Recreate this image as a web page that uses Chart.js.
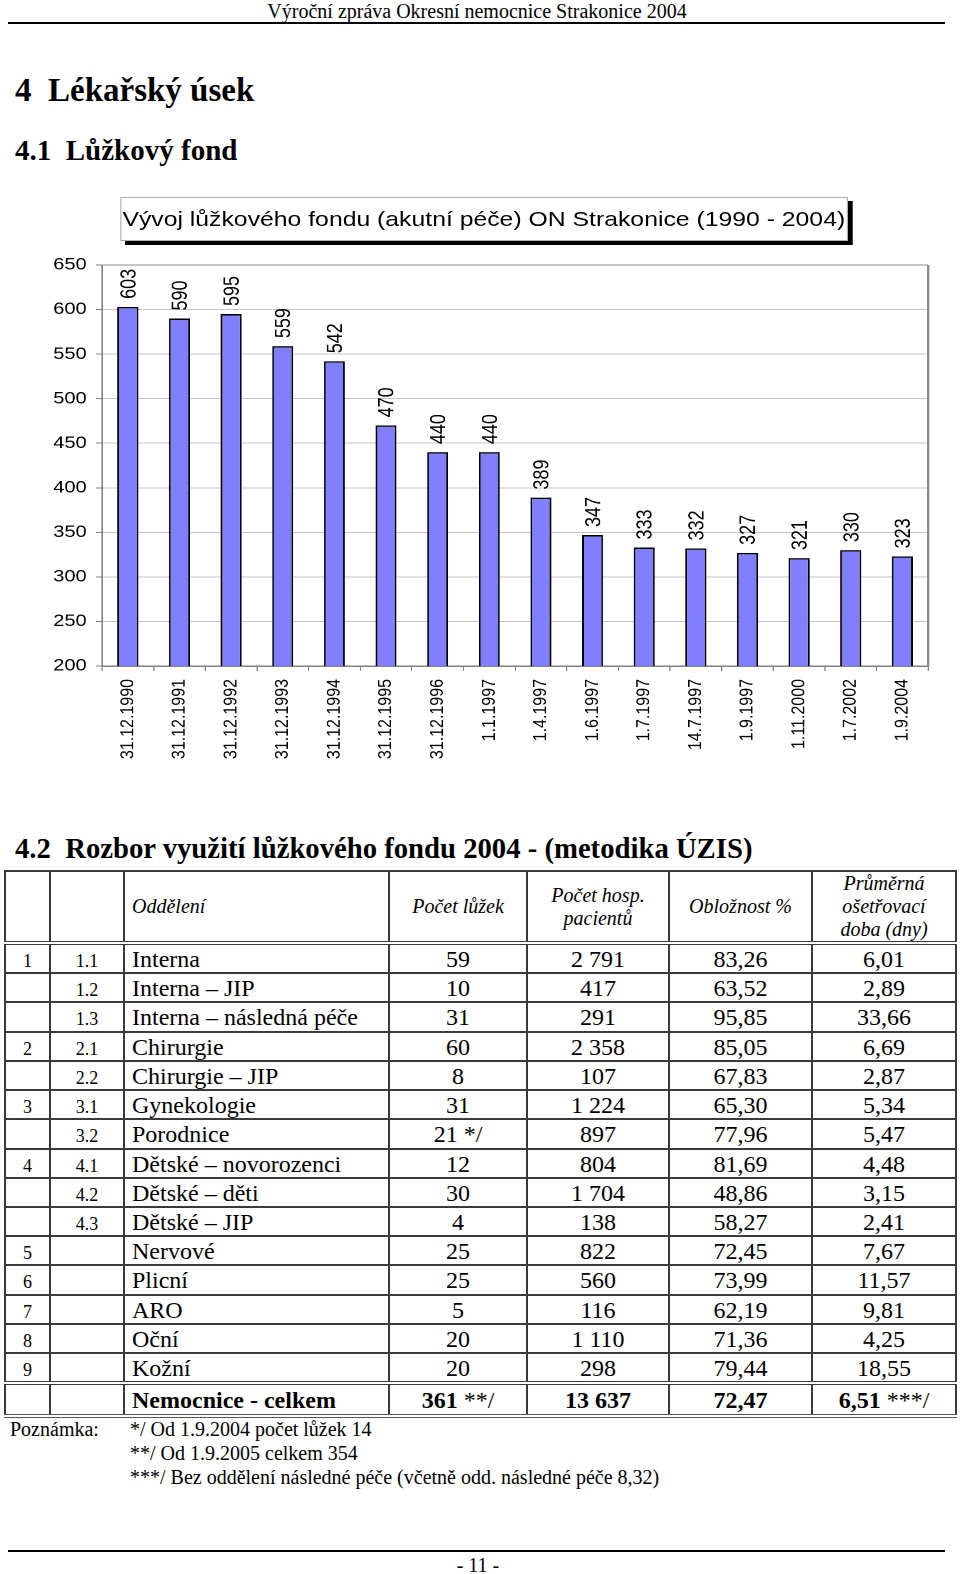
<!DOCTYPE html>
<html lang="cs">
<head>
<meta charset="utf-8">
<script src="https://cdn.jsdelivr.net/npm/chart.js@4.4.1/dist/chart.umd.min.js"></script>
<style>
  html, body { margin: 0; padding: 0; background: #fff; }
  body { position: relative; width: 960px; height: 1574px; overflow: hidden; font-family: "Liberation Serif", "Times New Roman", serif; color: #000; }
  .abs { position: absolute; }
  #hdr { left: 0; width: 954px; top: 0; text-align: center; font-size: 20px; line-height: 22px; }
  .rule { left: 8px; width: 937px; height: 2px; background: #000; }
  h1, h2, h3 { margin: 0; font-weight: bold; white-space: pre; position: absolute; left: 15px; }
  h1 { font-size: 33px; line-height: 34px; top: 73px; }
  h2 { font-size: 29px; line-height: 30px; top: 135px; }
  h3 { font-size: 28.7px; line-height: 30px; top: 833px; }
  #chartWrap { left: 0; top: 190px; width: 814px; height: 590px; transform: scaleX(1.1794); transform-origin: 0 0; }
  #chartTitle { position: absolute; left: 101.7px; top: 7px; width: 615px; height: 42px; border: 1px solid #b0b0b0; background: #fff;
    box-shadow: 4px 4px 0 #000; font-family: "Liberation Sans", Arial, sans-serif; font-size: 21px; line-height: 42px; text-align: center; z-index: 2; white-space: nowrap; }
  #tbl { left: 4px; top: 870px; border-collapse: collapse; table-layout: fixed; width: 951px; }
  #tbl td { border: 2px solid #3a3a3a; padding: 2px 0 0 0; font-size: 24px; line-height: 24px; vertical-align: baseline; text-align: center; overflow: hidden; white-space: nowrap; }
  #tbl td.sm { font-size: 18px; line-height: 20px; }
  #tbl td.name { text-align: left; padding-left: 7px; }
  #tbl tr.head td { font-style: italic; font-size: 20px; line-height: 23px; vertical-align: middle; height: 68px; padding-top: 0; }
  #tbl tr.head td { border-bottom: 4px double #3a3a3a; }
  #tbl tr.body td { height: 25.23px; }
  #tbl tr.last td { border-bottom: 4px double #3a3a3a; }
  #tbl tr.total td { font-weight: bold; height: 26px; padding-top: 3px; border-bottom: 4px double #555; }
  #tbl tr.total span.n { font-weight: normal; }
  #notes { left: 10px; top: 1418px; font-size: 20px; line-height: 23.8px; }
  #notes .lab { position: absolute; left: 0; top: 0; }
  #notes .txt { position: absolute; left: 120px; top: 0; white-space: nowrap; }
  #page { left: 0; width: 956px; top: 1554px; text-align: center; font-size: 20px; line-height: 22px; }
</style>
</head>
<body>
<div id="hdr" class="abs">Výroční zpráva Okresní nemocnice Strakonice 2004</div>
<div class="abs rule" style="top:22px"></div>
<h1>4  Lékařský úsek</h1>
<h2>4.1  Lůžkový fond</h2>

<div id="chartWrap" class="abs">
  <div id="chartTitle">Vývoj lůžkového fondu (akutní péče) ON Strakonice (1990 - 2004)</div>
  <canvas id="c" width="814" height="590" style="position:absolute;left:0;top:0"></canvas>
</div>

<h3>4.2  Rozbor využití lůžkového fondu 2004 - (metodika ÚZIS)</h3>
<table id="tbl" class="abs"><colgroup>
<col style="width:45px"><col style="width:74px"><col style="width:265px"><col style="width:138px"><col style="width:142px"><col style="width:143px"><col style="width:144px">
</colgroup><tbody id="tbody"></tbody></table>

<div id="notes" class="abs">
  <div class="lab">Poznámka:</div>
  <div class="txt">*/ Od 1.9.2004 počet lůžek 14<br>**/ Od 1.9.2005 celkem 354<br>***/ Bez oddělení následné péče (včetně odd. následné péče 8,32)</div>
</div>
<div class="abs rule" style="top:1550px"></div>
<div id="page" class="abs">- 11 -</div>

<script>
// ---------- chart data ----------
const categories = ['31.12.1990','31.12.1991','31.12.1992','31.12.1993','31.12.1994','31.12.1995','31.12.1996','1.1.1997','1.4.1997','1.6.1997','1.7.1997','14.7.1997','1.9.1997','1.11.2000','1.7.2002','1.9.2004'];
const bedCounts = [603, 590, 595, 559, 542, 470, 440, 440, 389, 347, 333, 332, 327, 321, 330, 323];
const yAxisMin = 200;
const yAxisMax = 650;
const yAxisStep = 50;

// ---------- table data ----------
const tblGroup   = ['1','','','2','','3','','4','','','5','6','7','8','9'];
const tblCode    = ['1.1','1.2','1.3','2.1','2.2','3.1','3.2','4.1','4.2','4.3','','','','',''];
const tblDept    = ['Interna','Interna – JIP','Interna – následná péče','Chirurgie','Chirurgie – JIP','Gynekologie','Porodnice','Dětské – novorozenci','Dětské – děti','Dětské – JIP','Nervové','Plicní','ARO','Oční','Kožní'];
const tblBeds    = ['59','10','31','60','8','31','21 */','12','30','4','25','25','5','20','20'];
const tblPatients= ['2 791','417','291','2 358','107','1 224','897','804','1 704','138','822','560','116','1 110','298'];
const tblOccup   = ['83,26','63,52','95,85','85,05','67,83','65,30','77,96','81,69','48,86','58,27','72,45','73,99','62,19','71,36','79,44'];
const tblStay    = ['6,01','2,89','33,66','6,69','2,87','5,34','5,47','4,48','3,15','2,41','7,67','11,57','9,81','4,25','18,55'];
const tblHeader  = ['', '', 'Oddělení', 'Počet lůžek', 'Počet hosp.<br>pacientů', 'Obložnost %', 'Průměrná<br>ošetřovací<br>doba (dny)'];
const totalRow   = ['', '', 'Nemocnice - celkem', '361 <span class="n">**/</span>', '13 637', '72,47', '6,51 <span class="n">***/</span>'];

// build table
(function () {
  const tb = document.getElementById('tbody');
  let h = '<tr class="head">';
  tblHeader.forEach((t, i) => { h += '<td' + (i === 2 ? ' class="name"' : '') + '>' + t + '</td>'; });
  h += '</tr>';
  for (let i = 0; i < tblDept.length; i++) {
    h += '<tr class="body' + (i === tblDept.length - 1 ? ' last' : '') + '">' +
      '<td class="sm">' + tblGroup[i] + '</td>' +
      '<td class="sm">' + tblCode[i] + '</td>' +
      '<td class="name">' + tblDept[i] + '</td>' +
      '<td>' + tblBeds[i] + '</td>' +
      '<td>' + tblPatients[i] + '</td>' +
      '<td>' + tblOccup[i] + '</td>' +
      '<td>' + tblStay[i] + '</td></tr>';
  }
  h += '<tr class="total">';
  totalRow.forEach((t, i) => { h += '<td' + (i === 2 ? ' class="name"' : '') + '>' + t + '</td>'; });
  h += '</tr>';
  tb.innerHTML = h;
})();

// ---------- chart ----------
const valueLabels = {
  id: 'valueLabels',
  afterDatasetsDraw(chart) {
    const ctx = chart.ctx;
    const meta = chart.getDatasetMeta(0);
    const size = 18;
    ctx.save();
    ctx.font = size + 'px "Liberation Sans", Arial, sans-serif';
    ctx.fillStyle = '#000';
    ctx.textAlign = 'left';
    ctx.textBaseline = 'alphabetic';
    meta.data.forEach((bar, i) => {
      ctx.save();
      ctx.translate(bar.x, bar.y - 8);
      ctx.rotate(-Math.PI / 2);
      ctx.fillText(String(chart.data.datasets[0].data[i]), 0, size * 0.716 / 2);
      ctx.restore();
    });
    ctx.restore();
  }
};

const plotFrame = {
  id: 'plotFrame',
  afterDraw(chart) {
    const a = chart.chartArea;
    const ctx = chart.ctx;
    ctx.save();
    ctx.strokeStyle = '#8a8a8a';
    ctx.lineWidth = 1;
    ctx.beginPath();
    ctx.moveTo(a.left, a.top);
    ctx.lineTo(a.right, a.top);
    ctx.stroke();
    ctx.lineWidth = 2;
    ctx.beginPath();
    ctx.moveTo(a.right, a.top);
    ctx.lineTo(a.right, a.bottom);
    ctx.stroke();
    ctx.restore();
  }
};

new Chart(document.getElementById('c'), {
  type: 'bar',
  data: {
    labels: categories,
    datasets: [{
      data: bedCounts,
      backgroundColor: '#8080ff',
      borderColor: '#000',
      borderWidth: 1.5,
      barPercentage: 0.407,
      categoryPercentage: 1
    }]
  },
  options: {
    responsive: false,
    animation: false,
    devicePixelRatio: 2,
    layout: { padding: { top: 75, right: 27, left: 0, bottom: 0 } },
    plugins: { legend: { display: false }, title: { display: false }, tooltip: { enabled: false } },
    scales: {
      x: {
        grid: { display: true, drawOnChartArea: false, drawTicks: true, tickLength: 5, color: '#808080', lineWidth: 1 },
        border: { display: true, color: '#808080', width: 1.5 },
        ticks: { autoSkip: false, minRotation: 90, maxRotation: 90, padding: 8, color: '#000',
          font: { family: '"Liberation Sans", Arial, sans-serif', size: 16 } },
        afterFit(s) { s.height = 114; }
      },
      y: {
        min: yAxisMin, max: yAxisMax,
        grid: { color: '#c4c4c4', lineWidth: 1, tickColor: '#808080', tickLength: 5 },
        border: { display: true, color: '#808080', width: 1.5 },
        ticks: { stepSize: yAxisStep, padding: 8, color: '#000',
          font: { family: '"Liberation Sans", Arial, sans-serif', size: 17 } },
        afterFit(s) { s.width = 86.5; }
      }
    }
  },
  plugins: [valueLabels, plotFrame]
});
</script>
</body>
</html>
